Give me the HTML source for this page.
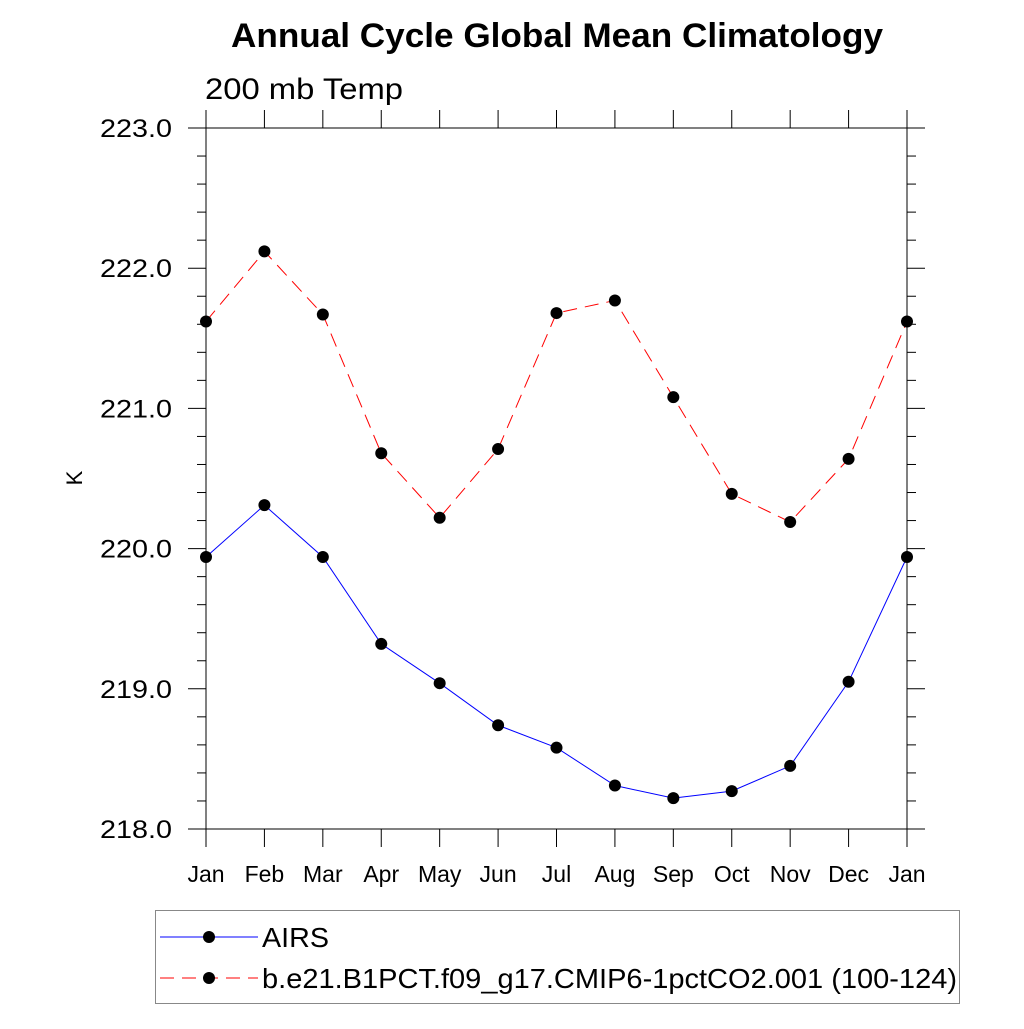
<!DOCTYPE html>
<html><head><meta charset="utf-8"><style>
html,body{margin:0;padding:0;background:#fff;}
svg text{font-family:"Liberation Sans",sans-serif;}
</style></head><body>
<svg id="chart" width="1024" height="1024" xmlns="http://www.w3.org/2000/svg">
<rect width="1024" height="1024" fill="#fff"/>
<text x="231" y="47" font-size="34" font-weight="bold" textLength="652" lengthAdjust="spacingAndGlyphs">Annual Cycle Global Mean Climatology</text>
<text x="205" y="99" font-size="30" textLength="198" lengthAdjust="spacingAndGlyphs">200 mb Temp</text>
<text x="82" y="478" font-size="22" text-anchor="middle" transform="rotate(-90 82 478)">K</text>
<g id="axes"></g>
<g id="series"></g>
<g>
<rect x="155.5" y="910.5" width="804" height="93" fill="none" stroke="#888" stroke-width="1"/>
<line x1="160" y1="937" x2="258" y2="937" stroke="#0000ff" stroke-width="1"/>
<circle cx="209" cy="937" r="6" fill="#000"/>
<text x="262" y="947" font-size="28" textLength="67" lengthAdjust="spacingAndGlyphs">AIRS</text>
<line x1="160" y1="978" x2="258" y2="978" stroke="#ff0000" stroke-width="1" stroke-dasharray="14,8"/>
<circle cx="209" cy="978" r="6" fill="#000"/>
<text x="262" y="988" font-size="28" textLength="695" lengthAdjust="spacingAndGlyphs">b.e21.B1PCT.f09_g17.CMIP6-1pctCO2.001 (100-124)</text>
</g>
</svg>
<script>
const months=["Jan","Feb","Mar","Apr","May","Jun","Jul","Aug","Sep","Oct","Nov","Dec","Jan"];
const airs=[219.94,220.31,219.94,219.32,219.04,218.74,218.58,218.31,218.22,218.27,218.45,219.05,219.94];
const model=[221.62,222.12,221.67,220.68,220.22,220.71,221.68,221.77,221.08,220.39,220.19,220.64,221.62];
const yTicks=[218,219,220,221,222,223];
const X0=206,X1=907,Y0=829,Y1=128,YMIN=218,YMAX=223;
const xs=i=>X0+(X1-X0)*i/(months.length-1);
const ys=v=>Y0-(v-YMIN)/(YMAX-YMIN)*(Y0-Y1);
const NS="http://www.w3.org/2000/svg";
function mk(p,t,a){const e=document.createElementNS(NS,t);for(const k in a)e.setAttribute(k,a[k]);p.appendChild(e);return e;}
const ax=document.getElementById('axes');
const fr=mk(ax,'rect',{x:X0,y:Y1,width:X1-X0,height:Y0-Y1,fill:'none',stroke:'#000','stroke-width':1});


for(let v=YMIN;v<=YMAX+1e-6;v+=0.2){
 const y=ys(v);const maj=Math.abs(v-Math.round(v))<1e-6;const L=maj?18:9;
 mk(ax,'line',{x1:X0-L,y1:y,x2:X0,y2:y,stroke:'#000'});
 mk(ax,'line',{x1:X1,y1:y,x2:X1+L,y2:y,stroke:'#000'});
}
yTicks.forEach(v=>{
 const t=mk(ax,'text',{x:172,y:ys(v)+9,'font-size':25,'text-anchor':'end',textLength:72,lengthAdjust:'spacingAndGlyphs'});
 t.textContent=v.toFixed(1);
 
 
});
months.forEach((m,i)=>{
 const x=xs(i);
 mk(ax,'line',{x1:x,y1:Y1-18,x2:x,y2:Y1,stroke:'#000'});
 mk(ax,'line',{x1:x,y1:Y0,x2:x,y2:Y0+18,stroke:'#000'});
 const t=mk(ax,'text',{x:x,y:882,'font-size':23,'text-anchor':'middle'});
 t.textContent=m;
 
 
});
const sg=document.getElementById('series');
function series(vals,color,dash,name){
 const pl=mk(sg,'polyline',{points:vals.map((v,i)=>xs(i)+','+ys(v)).join(' '),fill:'none',stroke:color,'stroke-width':1});
 if(dash)pl.setAttribute('stroke-dasharray',dash);
 
 
 vals.forEach((v,i)=>{
  const c=mk(sg,'circle',{cx:xs(i),cy:ys(v),r:6,fill:'#000'});
  
  
 });
}
series(model,'#ff0000','14,8','model');
series(airs,'#0000ff',null,'airs');
</script>
</body></html>
